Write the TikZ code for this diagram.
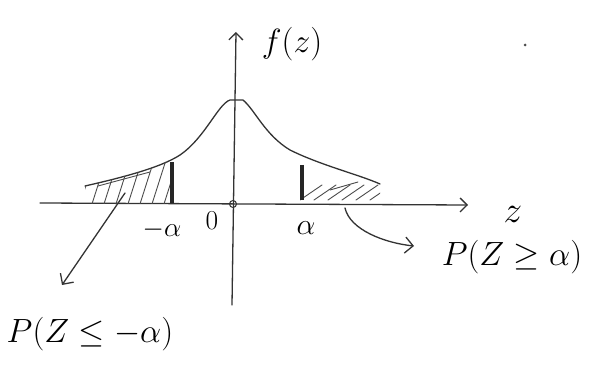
\documentclass[tikz,border=0pt]{standalone}
\usepackage{graphicx}
\usetikzlibrary{arrows.meta}
\newcommand{\skmath}[2]{\scalebox{#1}{\Huge $#2$}}
\begin{document}
\begin{tikzpicture}[x=1pt,y=-1pt,
  pen/.style={line width=1.3pt, line cap=round, line join=round, draw=black!80},
  hatch/.style={line width=0.9pt, draw=black!70, line cap=round},
  bar/.style={line width=3.2pt, draw=black!85},
  lbl/.style={inner sep=0pt}]
\useasboundingbox (0,0) rectangle (613,366);
\def\mycurve{(85,186) .. controls (120,178) and (160,168) .. (180,155) .. controls (205,138) and (218,104) .. (230,100) -- (243,100) .. controls (255,110) and (265,135) .. (290,150) .. controls (320,165) and (360,175) .. (380,184)}
% axes
\coordinate (xs) at (40,203);
\coordinate (xe) at (468,205);
\coordinate (ys) at (232,305);
\coordinate (ye) at (236,32);
\draw[pen, -{Straight Barb[length=7pt,width=14pt]}] (xs) -- (xe);
\draw[pen, -{Straight Barb[length=7pt,width=14pt]}] (ys) -- (ye);
\node[lbl] (fz) at (292,44) {\skmath{1.35}{f(z)}};
\node[lbl] (zl) at (513,214) {\skmath{1.5}{z}};
\node[circle, draw=black!80, line width=1pt, minimum size=7pt, inner sep=0pt] (o) at (233,204) {};
\node[lbl] (zero) at (212,221) {\skmath{1.1}{0}};
\node[lbl] (ma) at (162,230) {\skmath{1.1}{-\alpha}};
\node[lbl] (pa) at (306,228) {\skmath{1.2}{\alpha}};
% curve
\draw[pen] \mycurve;
% hatching left
\begin{scope}
\clip (80,150) rectangle (172,204);
\clip \mycurve -- (380,204) -- (85,204) -- cycle;
\foreach \x in {80,92,...,180} \draw[hatch] (\x,204) -- (\x+14,160);
\end{scope}
\begin{scope}
\clip (300,150) rectangle (385,204);
\clip \mycurve -- (380,204) -- (85,204) -- cycle;
\foreach \x in {300,314,...,390} \draw[hatch] (\x,200) -- (\x+22,185);
\end{scope}
\draw[hatch] (98,186) -- (150,172);
\draw[hatch] (330,190) -- (358,182);
% bars
\draw[bar] (172,162) -- (172,203);
\draw[bar] (302,165) -- (302,200);
% arrows and labels
\coordinate (lt) at (125,193);
\coordinate (la) at (62,285);
\coordinate (rt) at (345,208);
\coordinate (ra) at (414,246);
\draw[pen, -{Straight Barb[length=8pt,width=16pt]}] (lt) -- (la);
\draw[pen, -{Straight Barb[length=8pt,width=16pt]}] (rt) .. controls (350,230) and (385,243) .. (ra);
\node[lbl] (pl) at (90,334) {\skmath{1.35}{P(Z\leq-\alpha)}};
\node[lbl] (pr) at (512,257) {\skmath{1.35}{P(Z\geq\alpha)}};
\fill[black!70] (525,45) circle (1.5pt);
\end{tikzpicture}
\end{document}
